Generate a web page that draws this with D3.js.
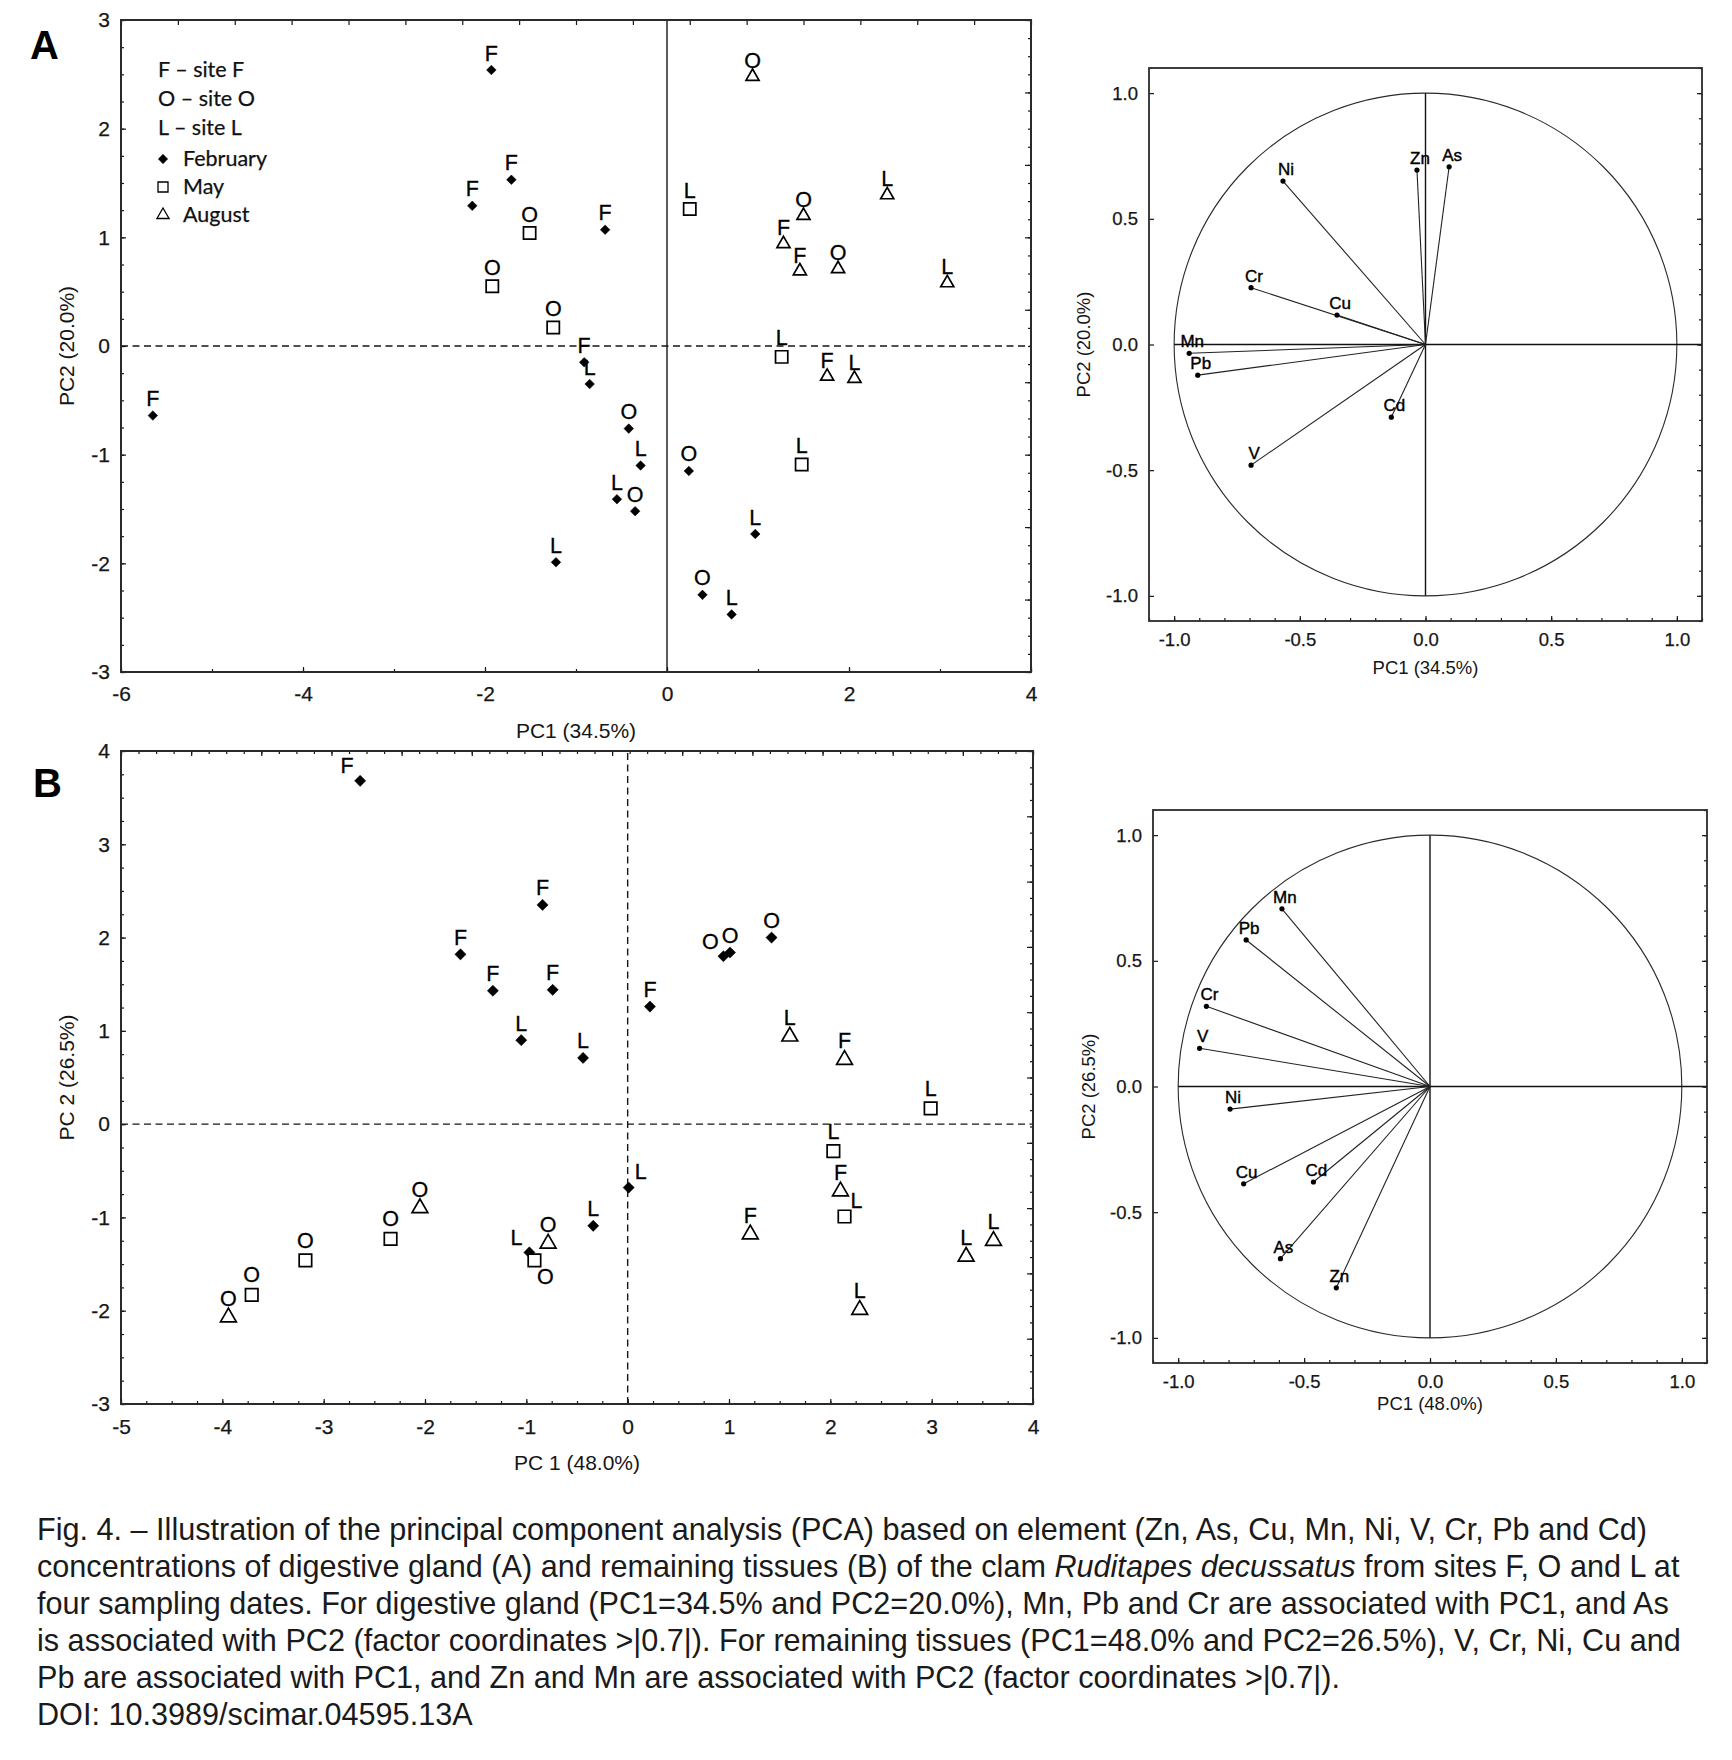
<!DOCTYPE html>
<html><head><meta charset="utf-8">
<script src="https://cdn.jsdelivr.net/npm/d3@7"></script>
<style>body{margin:0;background:#fff}svg{display:block}</style>
</head><body>
<svg id="c" width="1732" height="1760"></svg>
<script>
// ---------------- DATA ----------------
// Panel A (digestive gland) factor scores: [site, PC1, PC2, label placement]
const A_feb = [
  ["F",-1.93,2.54],["F",-1.71,1.53],["F",-2.14,1.29],["F",-0.68,1.07],["F",-0.91,-0.15],["F",-5.65,-0.64],
  ["O",-0.42,-0.76],["O",0.24,-1.15],["O",-0.35,-1.52],["O",0.39,-2.29],
  ["L",-0.85,-0.35],["L",-0.29,-1.10],["L",-0.55,-1.41],["L",-1.22,-1.99],["L",0.97,-1.73],["L",0.71,-2.47]
];
const A_may = [["O",-1.51,1.04],["O",-1.92,0.55],["O",-1.25,0.17],["L",0.25,1.26],["L",1.26,-0.10],["L",1.48,-1.09]];
const A_aug = [["O",0.94,2.48],["O",1.50,1.20],["O",1.88,0.71],["L",2.42,1.39],["L",3.08,0.58],["L",2.06,-0.30],
  ["F",1.28,0.94],["F",1.46,0.69],["F",1.76,-0.28]];

// Panel B (remaining tissues) factor scores
const B_feb = [
  ["F",-2.64,3.68,"nw"],["F",-0.84,2.35],["F",-1.65,1.82],["F",-1.33,1.43],["F",-0.74,1.44],["F",0.22,1.26],
  ["O",0.945,1.80,"nw"],["O",1.01,1.84],["O",1.42,2.00],
  ["L",-1.05,0.90],["L",-0.44,0.71],["L",0.01,-0.68,"ne"],["L",-0.34,-1.09],["L",-0.97,-1.375,"nw"]
];
const B_may = [["L",2.99,0.17],["L",2.03,-0.29],["L",2.14,-0.99,"ne"],["O",-0.92,-1.46,"se"],
  ["O",-3.71,-1.83],["O",-3.18,-1.46],["O",-2.34,-1.23]];
const B_aug = [["L",1.60,0.94],["F",2.14,0.69],["F",2.10,-0.72],["F",1.21,-1.18],["L",3.61,-1.25],
  ["L",3.34,-1.42],["L",2.29,-1.99],["O",-0.785,-1.28],["O",-3.94,-2.07],["O",-2.05,-0.90]];

// Loadings (factor coordinates)
const elements = ["Zn","As","Cu","Mn","Ni","V","Cr","Pb","Cd"];
const A_loadPC1 = [-0.034, 0.094, -0.352, -0.940, -0.567, -0.694, -0.694, -0.906, -0.136];
const A_loadPC2 = [ 0.694, 0.707,  0.117, -0.035, 0.650, -0.480,  0.226, -0.122, -0.289];
const B_loadPC1 = [-0.372, -0.594, -0.740, -0.588, -0.794, -0.915, -0.888, -0.730, -0.463];
const B_loadPC2 = [-0.801, -0.685, -0.387,  0.707, -0.090,  0.152,  0.319,  0.583, -0.380];

// Tick labels
const A_xTicks = [-6,-4,-2,0,2,4];
const A_yTicks = [-3,-2,-1,0,1,2,3];
const B_xTicks = [-5,-4,-3,-2,-1,0,1,2,3,4];
const B_yTicks = [-3,-2,-1,0,1,2,3,4];
const loadTicks = [-1.0,-0.5,0.0,0.5,1.0];

// Legend
const legendSites = ["F \u2013 site F","O \u2013 site O","L \u2013 site L"];
const legendMonths = ["February","May","August"];

const caption = [
  [["Fig. 4. \u2013 Illustration of the principal component analysis (PCA) based on element (Zn, As, Cu, Mn, Ni, V, Cr, Pb and Cd)",false]],
  [["concentrations of digestive gland (A) and remaining tissues (B) of the clam ",false],["Ruditapes decussatus",true],[" from sites F, O and L at",false]],
  [["four sampling dates. For digestive gland (PC1=34.5% and PC2=20.0%), Mn, Pb and Cr are associated with PC1, and As",false]],
  [["is associated with PC2 (factor coordinates >|0.7|). For remaining tissues (PC1=48.0% and PC2=26.5%), V, Cr, Ni, Cu and",false]],
  [["Pb are associated with PC1, and Zn and Mn are associated with PC2 (factor coordinates >|0.7|).",false]],
  [["DOI: 10.3989/scimar.04595.13A",false]]
];

// ---------------- DRAWING ----------------
const svg = d3.select("#c");
const FONT = "'Liberation Sans', Arial, Helvetica, sans-serif";
const INK = "#161616";

function axisG(g, axisFn, scale, values, size, transform, fmt, pad, fs) {
  const ax = axisFn(scale).tickValues(values).tickSizeInner(size).tickSizeOuter(0)
    .tickPadding(pad).tickFormat(fmt || (() => ""));
  const a = g.append("g").attr("transform", transform).call(ax);
  a.select(".domain").remove();
  a.attr("font-family", null).attr("font-size", null);
  a.selectAll("line").attr("stroke", INK).attr("stroke-width", 1.2);
  a.selectAll("text").attr("font-family", FONT).attr("font-size", fs || 21).attr("fill", INK)
    .attr("stroke", INK).attr("stroke-width", 0.25);
  return a;
}
function rng(a, b, s) { const out = []; for (let v = a; v <= b + 1e-9; v += s) out.push(+v.toFixed(6)); return out; }

function symPath(kind, size) {
  if (kind === "aug") return d3.symbol().type(d3.symbolTriangle).size(size)();
  return d3.symbol().type(d3.symbolSquare).size(size)();
}

function scatterPanel(cfg) {
  const g = svg.append("g");
  const x = d3.scaleLinear().domain(cfg.xDomain).range(cfg.xRange);
  const y = d3.scaleLinear().domain(cfg.yDomain).range(cfg.yRange);
  const [X0, X1] = cfg.xRange, [Y0, Y1] = cfg.yRange;

  g.append("line").attr("x1", X0).attr("x2", X1).attr("y1", y(0)).attr("y2", y(0))
    .attr("stroke", INK).attr("stroke-width", 1.3).attr("stroke-dasharray", "7,4.5");
  g.append("line").attr("x1", x(0)).attr("x2", x(0)).attr("y1", Y0).attr("y2", Y1)
    .attr("stroke", INK).attr("stroke-width", 1.4).attr("stroke-dasharray", cfg.vDash);

  axisG(g, d3.axisBottom, x, cfg.xMinor, -3, `translate(0,${Y0})`);
  axisG(g, d3.axisBottom, x, cfg.xTicks, -5, `translate(0,${Y0})`, d => String(d), cfg.xPad);
  axisG(g, d3.axisLeft, y, cfg.yMinor, -3, `translate(${X0},0)`);
  axisG(g, d3.axisLeft, y, cfg.yTicks, -5, `translate(${X0},0)`, d => String(d), 11);
  const xt = d3.scaleLinear().domain([0, cfg.topN]).range([X0, X1]);
  const yr = d3.scaleLinear().domain([0, cfg.rightN]).range([Y1, Y0]);
  if (cfg.topMinor) axisG(g, d3.axisTop, xt, rng(0, cfg.topN, 0.25), -3, `translate(0,${Y1})`);
  axisG(g, d3.axisTop, xt, rng(0, cfg.topN, 1), -5, `translate(0,${Y1})`);
  axisG(g, d3.axisRight, yr, rng(0, cfg.rightN, 0.25), -3, `translate(${X1},0)`);
  axisG(g, d3.axisRight, yr, rng(0, cfg.rightN, 1), -6, `translate(${X1},0)`);

  g.append("rect").attr("x", X0).attr("y", Y1).attr("width", X1 - X0).attr("height", Y0 - Y1)
    .attr("fill", "none").attr("stroke", "#2a2a2a").attr("stroke-width", 2);

  g.append("text").attr("x", (X0 + X1) / 2).attr("y", cfg.xTitleY).attr("text-anchor", "middle")
    .attr("dy", "0.35em").attr("font-family", FONT).attr("font-size", 21).attr("fill", INK).text(cfg.xTitle);
  g.append("text").attr("transform", `translate(${cfg.yTitleX},${(Y0 + Y1) / 2}) rotate(-90)`)
    .attr("text-anchor", "middle").attr("dy", "0.35em").attr("font-family", FONT).attr("font-size", 21)
    .attr("fill", INK).text(cfg.yTitle);

  const OFF = { nw: [-13, -15], ne: [12, -16], se: [11, 16] };
  const series = [["feb", cfg.feb], ["may", cfg.may], ["aug", cfg.aug]];
  series.forEach(([kind, data]) => {
    const gg = g.append("g");
    gg.selectAll("path").data(data).join("path")
      .attr("d", symPath(kind, cfg.size[kind]))
      .attr("transform", d => `translate(${x(d[1])},${y(d[2])})` + (kind === "feb" ? " rotate(45)" : ""))
      .attr("fill", kind === "feb" ? "#000" : "#fff")
      .attr("stroke", "#000").attr("stroke-width", kind === "feb" ? 0.5 : 1.7)
      .attr("stroke-linejoin", "miter");
    gg.selectAll("text").data(data).join("text")
      .attr("x", d => x(d[1]) + (d[3] ? OFF[d[3]][0] : 0))
      .attr("y", d => y(d[2]) + (d[3] ? OFF[d[3]][1] : cfg.labelDy[kind]))
      .attr("dy", "0.35em").attr("text-anchor", "middle")
      .attr("font-family", FONT).attr("font-size", 21.5).attr("fill", "#000")
      .attr("stroke", "#000").attr("stroke-width", 0.3)
      .text(d => d[0]);
  });
  return { g, x, y };
}

function loadingPanel(cfg) {
  const g = svg.append("g");
  const x = d3.scaleLinear().domain([-1.1, 1.1]).range(cfg.xRange);
  const y = d3.scaleLinear().domain([-1.1, 1.1]).range(cfg.yRange);
  const [X0, X1] = cfg.xRange, [Y0, Y1] = cfg.yRange;

  g.append("ellipse").attr("cx", x(0)).attr("cy", y(0)).attr("rx", x(1) - x(0)).attr("ry", y(0) - y(1))
    .attr("fill", "none").attr("stroke", "#2a2a2a").attr("stroke-width", 1.1);
  g.append("line").attr("x1", x(-1)).attr("x2", X1).attr("y1", y(0)).attr("y2", y(0))
    .attr("stroke", "#111").attr("stroke-width", 1.4);
  g.append("line").attr("x1", x(0)).attr("x2", x(0)).attr("y1", y(1)).attr("y2", y(-1))
    .attr("stroke", "#111").attr("stroke-width", 1.4);

  const minor = rng(-1.1, 1.1, 0.1);
  axisG(g, d3.axisBottom, x, minor, -3, `translate(0,${Y0})`);
  axisG(g, d3.axisBottom, x, loadTicks, -5, `translate(0,${Y0})`, d => d.toFixed(1), 12, 18.5);
  axisG(g, d3.axisLeft, y, loadTicks, -5, `translate(${X0},0)`, d => d.toFixed(1), 11, 18.5);
  axisG(g, d3.axisRight, y, minor, -3, `translate(${X1},0)`);
  axisG(g, d3.axisRight, y, loadTicks, -5, `translate(${X1},0)`);

  g.append("rect").attr("x", X0).attr("y", Y1).attr("width", X1 - X0).attr("height", Y0 - Y1)
    .attr("fill", "none").attr("stroke", "#2a2a2a").attr("stroke-width", 1.8);

  const idx = elements.map((e, i) => i);
  g.append("g").selectAll("line").data(idx).join("line")
    .attr("x1", x(0)).attr("y1", y(0))
    .attr("x2", i => x(cfg.pc1[i])).attr("y2", i => y(cfg.pc2[i]))
    .attr("stroke", "#222").attr("stroke-width", 1.1);
  g.append("g").selectAll("circle").data(idx).join("circle")
    .attr("cx", i => x(cfg.pc1[i])).attr("cy", i => y(cfg.pc2[i])).attr("r", 2.6).attr("fill", "#000");
  g.append("g").selectAll("text").data(idx).join("text")
    .attr("x", i => x(cfg.pc1[i]) + 3).attr("y", i => y(cfg.pc2[i]) - 12)
    .attr("dy", "0.35em").attr("text-anchor", "middle")
    .attr("font-family", FONT).attr("font-size", 17).attr("fill", "#000")
    .attr("stroke", "#000").attr("stroke-width", 0.4)
    .text(i => elements[i]);

  g.append("text").attr("x", x(0)).attr("y", cfg.xTitleY).attr("text-anchor", "middle").attr("dy", "0.35em")
    .attr("font-family", FONT).attr("font-size", 18.5).attr("fill", INK).text(cfg.xTitle);
  g.append("text").attr("transform", `translate(${cfg.yTitleX},${y(0)}) rotate(-90)`)
    .attr("text-anchor", "middle").attr("dy", "0.35em").attr("font-family", FONT).attr("font-size", 18.5)
    .attr("fill", INK).text(cfg.yTitle);
}

// Panel A
scatterPanel({
  xDomain: [-6, 4], xRange: [121, 1031], yDomain: [-3, 3], yRange: [672, 20],
  xTicks: A_xTicks, yTicks: A_yTicks, xMinor: rng(-6, 4, 1), yMinor: rng(-3, 3, 0.25),
  topN: 16, topMinor: false, rightN: 9, vDash: null, xPad: 14,
  feb: A_feb, may: A_may, aug: A_aug,
  size: { feb: 46, may: 150, aug: 74 },
  labelDy: { feb: -17, may: -19, aug: -16 },
  xTitle: "PC1 (34.5%)", xTitleY: 731, yTitle: "PC2 (20.0%)", yTitleX: 67
});

// Legend (panel A)
const lg = svg.append("g").attr("font-family", "Lato, 'Open Sans', sans-serif").attr("font-size", 21.5)
  .attr("fill", "#111").attr("stroke", "#111").attr("stroke-width", 0.25);
const legY = [77, 106, 135, 166, 194, 222];
legendSites.forEach((t, i) => lg.append("text").attr("x", 158).attr("y", legY[i]).text(t));
legendMonths.forEach((t, i) => {
  const kind = ["feb", "may", "aug"][i];
  const cy = legY[i + 3] - 7;
  lg.append("path").attr("d", symPath(kind, [44, 100, 64][i]))
    .attr("transform", `translate(163,${cy})` + (kind === "feb" ? " rotate(45)" : ""))
    .attr("fill", kind === "feb" ? "#000" : "#fff").attr("stroke", "#000").attr("stroke-width", kind === "feb" ? 0.5 : 1.3);
  lg.append("text").attr("x", 183).attr("y", legY[i + 3]).text(t);
});

// Panel B
scatterPanel({
  xDomain: [-5, 4], xRange: [121, 1033], yDomain: [-3, 4], yRange: [1404, 751],
  xTicks: B_xTicks, yTicks: B_yTicks, xMinor: rng(-5, 4, 0.25), yMinor: rng(-3, 4, 0.25),
  topN: 13, topMinor: true, rightN: 10, vDash: "7,4.5", xPad: 15,
  feb: B_feb, may: B_may, aug: B_aug,
  size: { feb: 62, may: 156, aug: 108 },
  labelDy: { feb: -17, may: -20, aug: -19 },
  xTitle: "PC 1 (48.0%)", xTitleY: 1463, yTitle: "PC 2 (26.5%)", yTitleX: 67
});

loadingPanel({
  xRange: [1149, 1702], yRange: [621, 68], pc1: A_loadPC1, pc2: A_loadPC2,
  xTitle: "PC1 (34.5%)", xTitleY: 668, yTitle: "PC2 (20.0%)", yTitleX: 1084
});
loadingPanel({
  xRange: [1153, 1707], yRange: [1363, 810], pc1: B_loadPC1, pc2: B_loadPC2,
  xTitle: "PC1 (48.0%)", xTitleY: 1404, yTitle: "PC2 (26.5%)", yTitleX: 1089
});

// Panel letters
svg.append("text").attr("x", 30).attr("y", 59).attr("font-family", FONT).attr("font-weight", "bold")
  .attr("font-size", 40).attr("fill", "#000").text("A");
svg.append("text").attr("x", 33).attr("y", 797).attr("font-family", FONT).attr("font-weight", "bold")
  .attr("font-size", 40).attr("fill", "#000").text("B");

// Caption
const capG = svg.append("g").attr("font-family", FONT).attr("fill", "#1a1a1a");
const capBase = [1540, 1577, 1614, 1651, 1688, 1725];
const capEls = caption.map((segs, i) => {
  const t = capG.append("text").attr("x", 37).attr("y", capBase[i]).attr("font-size", 26);
  segs.forEach(([s, it]) => t.append("tspan").attr("font-style", it ? "italic" : "normal").text(s));
  return t;
});
const w2 = capEls[1].node().getComputedTextLength();
const fs = 26 * 1643 / w2;
capEls.forEach(t => t.attr("font-size", fs.toFixed(2)));
</script>
</body></html>
